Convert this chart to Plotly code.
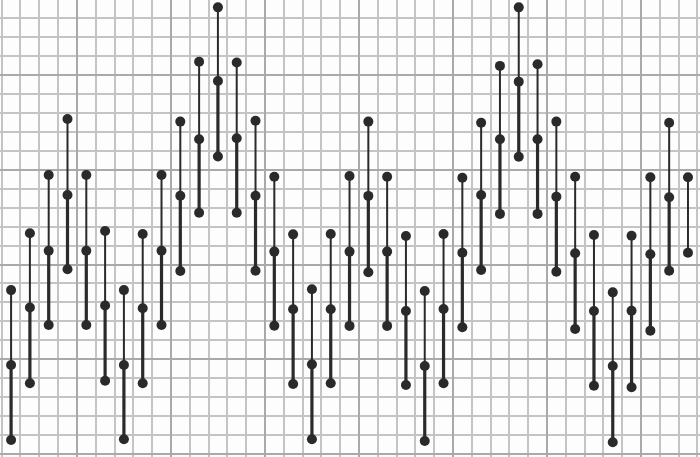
import plotly.graph_objects as go

# Data (grid-cell units), one entry per vertical stick, left to right
positions = [i + 0.5 for i in range(37)]
top = [8.65, 11.65, 14.72, 17.68, 14.72, 11.77, 8.65, 11.61, 14.72, 17.54, 20.70, 23.57,
       20.66, 17.59, 14.63, 11.59, 8.69, 11.61, 14.67, 17.54, 14.63, 11.50, 8.60, 11.61,
       14.58, 17.48, 20.48, 23.57, 20.57, 17.54, 14.63, 11.56, 8.53, 11.52, 14.60, 17.48, 14.60]
mid = [4.70, 7.73, 10.73, 13.67, 10.73, 7.84, 4.70, 7.69, 10.73, 13.63, 16.61, 19.68,
       16.66, 13.63, 10.68, 7.64, 4.73, 7.64, 10.68, 13.62, 10.68, 7.55, 4.64, 7.65,
       10.62, 13.67, 16.61, 19.65, 16.61, 13.58, 10.59, 7.55, 4.64, 7.56, 10.54, 13.55, 10.62]
bottom = [0.74, 3.73, 6.81, 9.75, 6.81, 3.87, 0.78, 3.73, 6.81, 9.66, 12.73, 15.70,
          12.73, 9.67, 6.77, 3.69, 0.78, 3.73, 6.76, 9.59, 6.76, 3.64, 0.69, 3.73,
          6.69, 9.71, 12.67, 15.69, 12.67, 9.62, 6.60, 3.60, 0.62, 3.52, 6.51, 9.67, None]

INK = "#2a2a2a"

ux, uy, lx, ly = [], [], [], []
dx, dy = [], []
for x, t, m, b in zip(positions, top, mid, bottom):
    ux += [x, x, None]
    uy += [t, m, None]
    dx += [x, x]
    dy += [t, m]
    if b is not None:
        lx += [x, x, None]
        ly += [m, b, None]
        dx.append(x)
        dy.append(b)

fig = go.Figure()
fig.add_trace(go.Scatter(x=ux, y=uy, mode="lines", line=dict(color=INK, width=2),
                         hoverinfo="skip", showlegend=False))
fig.add_trace(go.Scatter(x=lx, y=ly, mode="lines", line=dict(color=INK, width=3.2),
                         hoverinfo="skip", showlegend=False))
fig.add_trace(go.Scatter(x=dx, y=dy, mode="markers",
                         marker=dict(color=INK, size=10, line=dict(width=0)),
                         hoverinfo="skip", showlegend=False))

grid_minor = "#c4c4c4"
grid_major = "#a9a9a9"
fig.update_xaxes(range=[-0.09, 37.14], showticklabels=False, ticks="", zeroline=False,
                 showline=False, tick0=4, dtick=5, showgrid=True,
                 gridcolor=grid_major, gridwidth=2,
                 minor=dict(tick0=0, dtick=1, showgrid=True, gridcolor=grid_minor, gridwidth=1.5))
fig.update_yaxes(range=[-0.158, 23.958], showticklabels=False, ticks="", zeroline=False,
                 showline=False, tick0=0, dtick=5, showgrid=True,
                 gridcolor=grid_major, gridwidth=2,
                 minor=dict(tick0=0, dtick=1, showgrid=True, gridcolor=grid_minor, gridwidth=1.5))
fig.update_layout(width=700, height=457, margin=dict(l=0, r=0, t=0, b=0),
                  paper_bgcolor="#fdfdfd", plot_bgcolor="#fdfdfd", hovermode=False)
fig.write_html("out.html", config={"displayModeBar": False},
               post_script="document.body.style.margin='0';document.body.style.padding='0';")
